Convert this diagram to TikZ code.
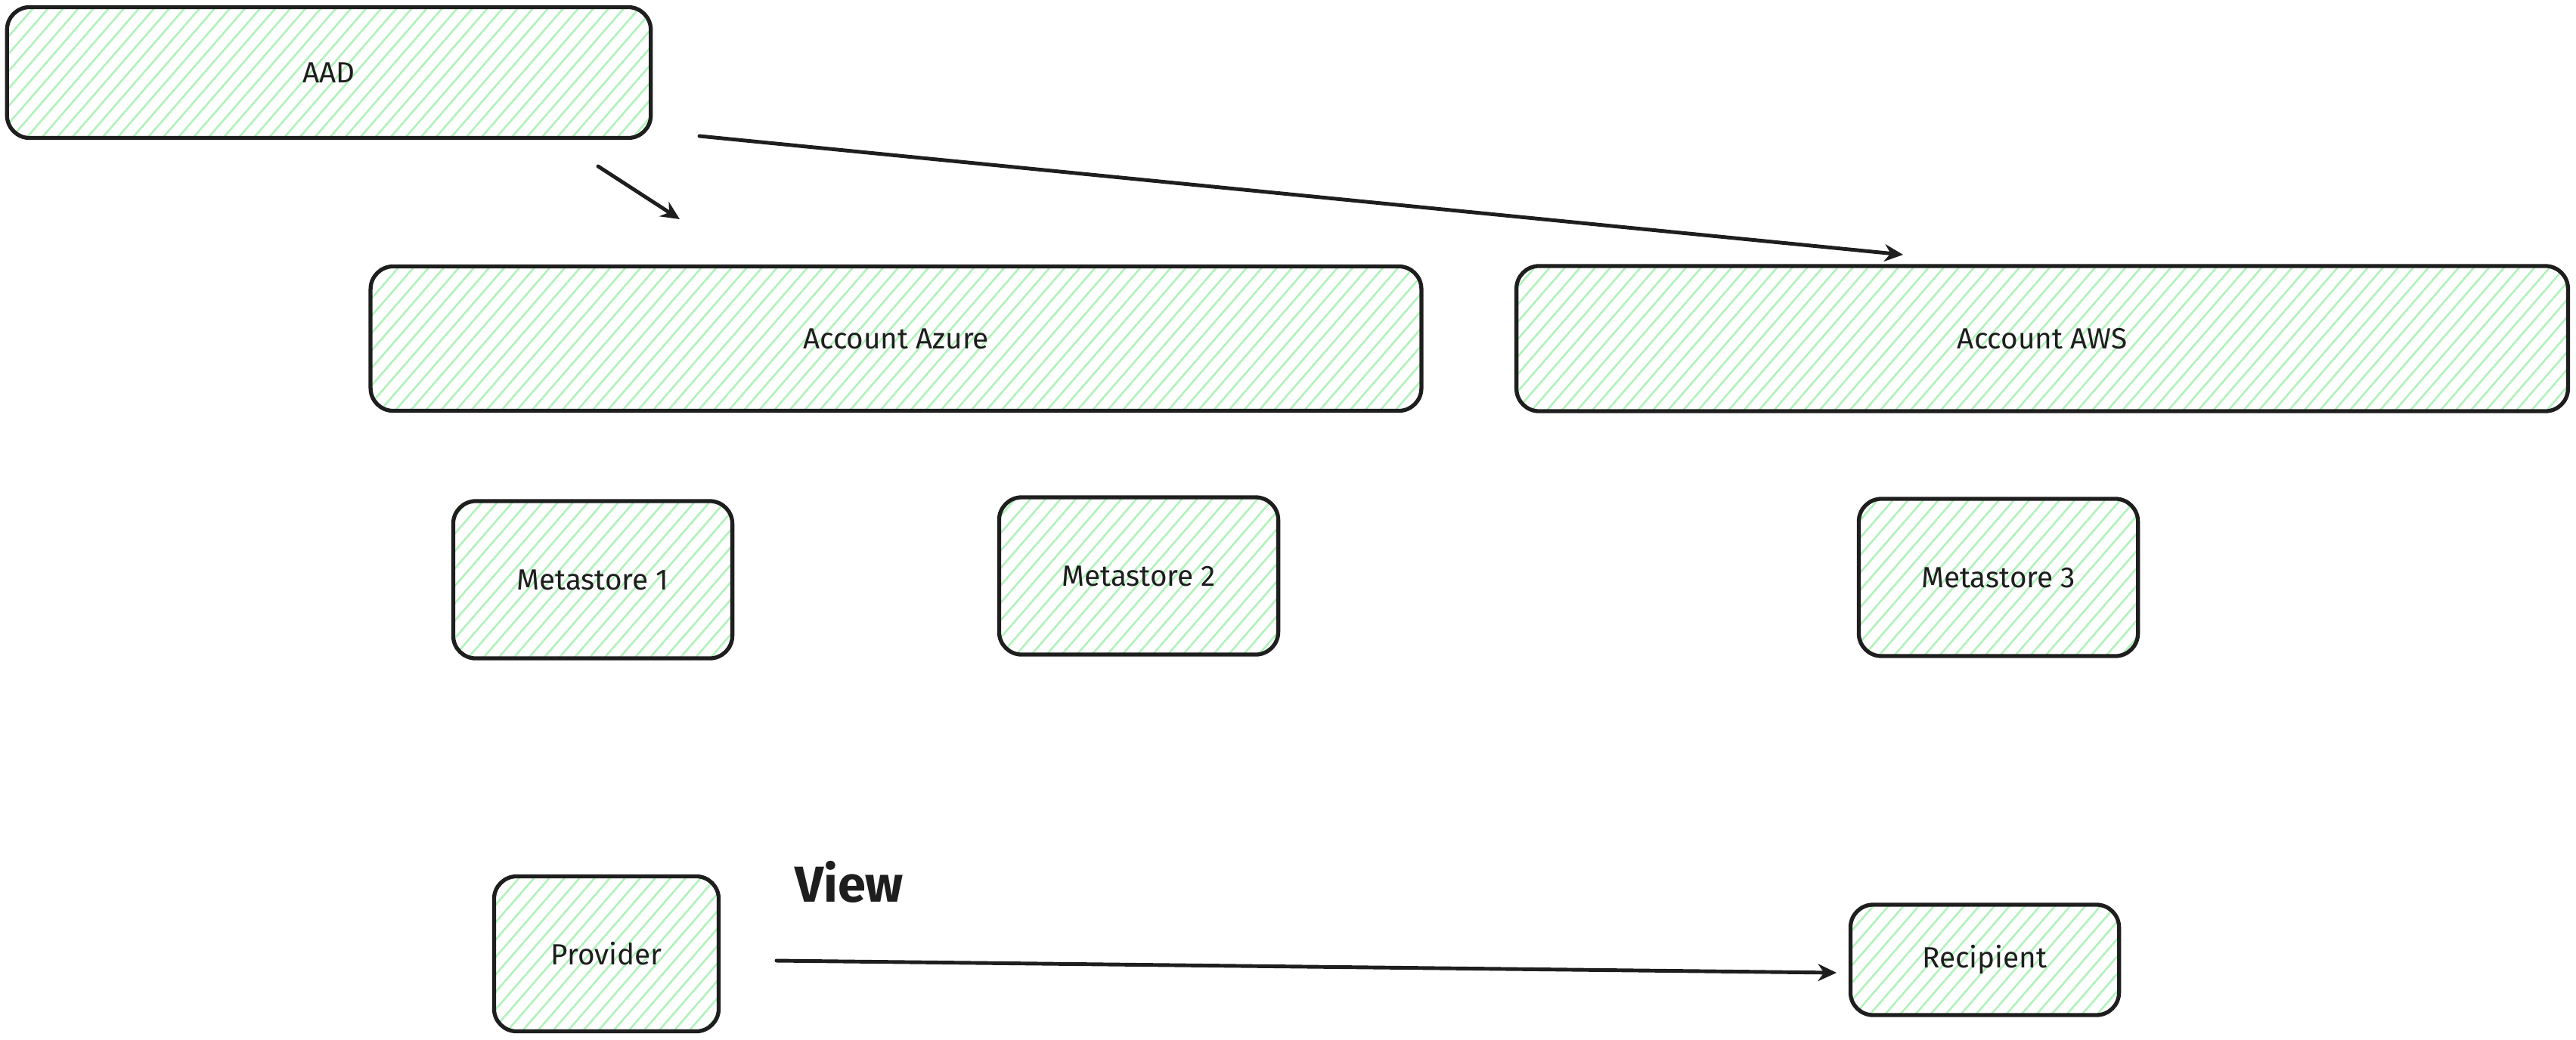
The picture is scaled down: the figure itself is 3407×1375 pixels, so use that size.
\documentclass[tikz,border=0pt]{standalone}
\usepackage{fontspec}
\setmainfont{Fira Sans}
\usetikzlibrary{arrows.meta}
\usetikzlibrary{patterns.meta}
\definecolor{hatch}{HTML}{B2F2BB}
\definecolor{ink}{HTML}{1E1E1E}

\begin{document}
\begin{tikzpicture} [x=0.01cm, y=-0.01cm,
  box/.style={draw=ink, line width=1.5pt, rounded corners=0.3cm, text=ink, font=\fontsize{11}{13}\selectfont,
    pattern={Lines[angle=49, distance=4.3pt, line width=0.75pt]}, pattern color=hatch},
  ms/.style={minimum width=3.69cm, minimum height=2.08cm},
  arr/.style={draw=ink, line width=1.4pt, line cap=round, -{Stealth[length=7pt, width=6.5pt]}}]
\useasboundingbox (0,0) rectangle (3407,1375);
\node[box, minimum width=8.51cm, minimum height=1.73cm] (aad) at (435,96) {AAD};
\node[box, minimum width=13.89cm, minimum height=1.91cm] (azure) at (1185,448) {Account Azure};
\node[box, minimum width=13.90cm, minimum height=1.92cm] (aws) at (2701,448) {Account AWS};
\foreach \n/\x/\y in {1/784/767, 2/1506/762, 3/2643/764} {
 \node[box, ms] (meta\n) at (\x,\y) {Metastore \n};
}
\node[box, minimum width=2.97cm, minimum height=2.05cm] (provider) at (802,1262) {Provider};
\node[box, minimum width=3.55cm, minimum height=1.46cm] (recipient) at (2625,1270) {Recipient};
\node[text=ink, font=\fontsize{19}{22}\selectfont\bfseries] (view) at (1123,1167) {View};
\coordinate (aadA) at (791,220);
\coordinate (azureIn) at (899,290);
\coordinate (aadB) at (925,180);
\coordinate (awsIn) at (2517,337);
\coordinate (provOut) at (1027,1271);
\coordinate (recIn) at (2429,1287);
\draw[arr] (aadA) -- (azureIn);
\draw[arr] (aadB) -- (awsIn);
\draw[arr] (provOut) -- (recIn);
\end{tikzpicture}
\end{document}
